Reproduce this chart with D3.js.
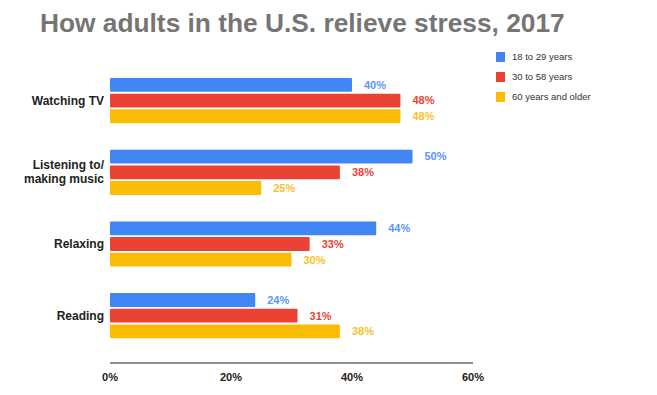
<!DOCTYPE html>
<html>
<head>
<meta charset="utf-8">
<script src="https://cdn.jsdelivr.net/npm/d3@7"></script>
<style>
  body { margin: 0; background: #fff; }
  svg { display: block; font-family: "Liberation Sans", Arial, sans-serif; }
</style>
</head>
<body>
<svg id="chart"></svg>
<script>
// data
var categories = ["Watching TV", "Listening to/\nmaking music", "Relaxing", "Reading"];
var seriesNames = ["18 to 29 years", "30 to 58 years", "60 years and older"];
var young = [40, 50, 44, 24];
var middle = [48, 38, 33, 31];
var older = [48, 25, 30, 38];
var xTicks = [0, 20, 40, 60];

var colors = ["#4285f4", "#ea4335", "#fbbc04"];
var labelColors = ["#5b95f5", "#ea4335", "#f9bf2a"];

var width = 657, height = 395;
var svg = d3.select("#chart").attr("width", width).attr("height", height);

var seriesValues = [young, middle, older];
var rows = categories.map(function(c, i) {
  return { cat: c, vals: seriesValues.map(function(s) { return s[i]; }) };
});

// scales
var x = d3.scaleLinear().domain([0, 60]).range([110, 473]);
var y = d3.scaleBand().domain(categories).range([78, 338.3]).paddingInner(0.37).paddingOuter(0);
var yInner = d3.scaleBand().domain(d3.range(3)).range([0, y.bandwidth()]).paddingInner(0.12);

// title
svg.append("text")
  .attr("x", 40).attr("y", 32)
  .attr("font-size", 26.3).attr("font-weight", "bold")
  .attr("fill", "#757575")
  .text("How adults in the U.S. relieve stress, 2017");

// bars
var groups = svg.selectAll("g.grp").data(rows).enter().append("g")
  .attr("class", "grp")
  .attr("transform", function(d) { return "translate(0," + y(d.cat) + ")"; });

groups.selectAll("rect").data(function(d) { return d.vals; }).enter().append("rect")
  .attr("x", x(0))
  .attr("y", function(d, i) { return yInner(i); })
  .attr("width", function(d) { return x(d) - x(0); })
  .attr("height", yInner.bandwidth())
  .attr("rx", 1)
  .attr("fill", function(d, i) { return colors[i]; });

groups.selectAll("text.val").data(function(d) { return d.vals; }).enter().append("text")
  .attr("class", "val")
  .attr("x", function(d) { return x(d) + 12; })
  .attr("y", function(d, i) { return yInner(i) + yInner.bandwidth() / 2; })
  .attr("dy", "0.35em")
  .attr("font-size", 11).attr("font-weight", "bold")
  .attr("fill", function(d, i) { return labelColors[i]; })
  .text(function(d) { return d + "%"; });

// category labels
groups.append("text")
  .attr("x", 104)
  .attr("text-anchor", "end")
  .attr("font-size", 12).attr("font-weight", "bold")
  .attr("fill", "#222")
  .each(function(d) {
    var lines = d.cat.split("\n");
    var t = d3.select(this);
    lines.forEach(function(l, k) {
      t.append("tspan")
        .attr("x", 104)
        .attr("y", y.bandwidth() / 2 + (k - (lines.length - 1) / 2) * 14)
        .attr("dy", "0.35em")
        .text(l);
    });
  });

// x axis
var axisY = 363;
svg.append("line")
  .attr("x1", x(0)).attr("x2", x(60))
  .attr("y1", axisY).attr("y2", axisY)
  .attr("stroke", "#222").attr("stroke-width", 1.2);

svg.selectAll("text.tick").data(xTicks).enter().append("text")
  .attr("class", "tick")
  .attr("x", function(d) { return x(d); })
  .attr("y", 377).attr("dy", "0.35em")
  .attr("text-anchor", "middle")
  .attr("font-size", 11).attr("font-weight", "bold")
  .attr("fill", "#222")
  .text(function(d) { return d + "%"; });

// legend
var legend = svg.selectAll("g.leg").data(seriesNames).enter().append("g")
  .attr("class", "leg")
  .attr("transform", function(d, i) { return "translate(496," + (57 + i * 20) + ")"; });
legend.append("rect")
  .attr("x", 0).attr("y", -5).attr("width", 9).attr("height", 10)
  .attr("fill", function(d, i) { return colors[i]; });
legend.append("text")
  .attr("x", 16).attr("dy", "0.35em")
  .attr("font-size", 9.5).attr("fill", "#333")
  .text(function(d) { return d; });
</script>
</body>
</html>
